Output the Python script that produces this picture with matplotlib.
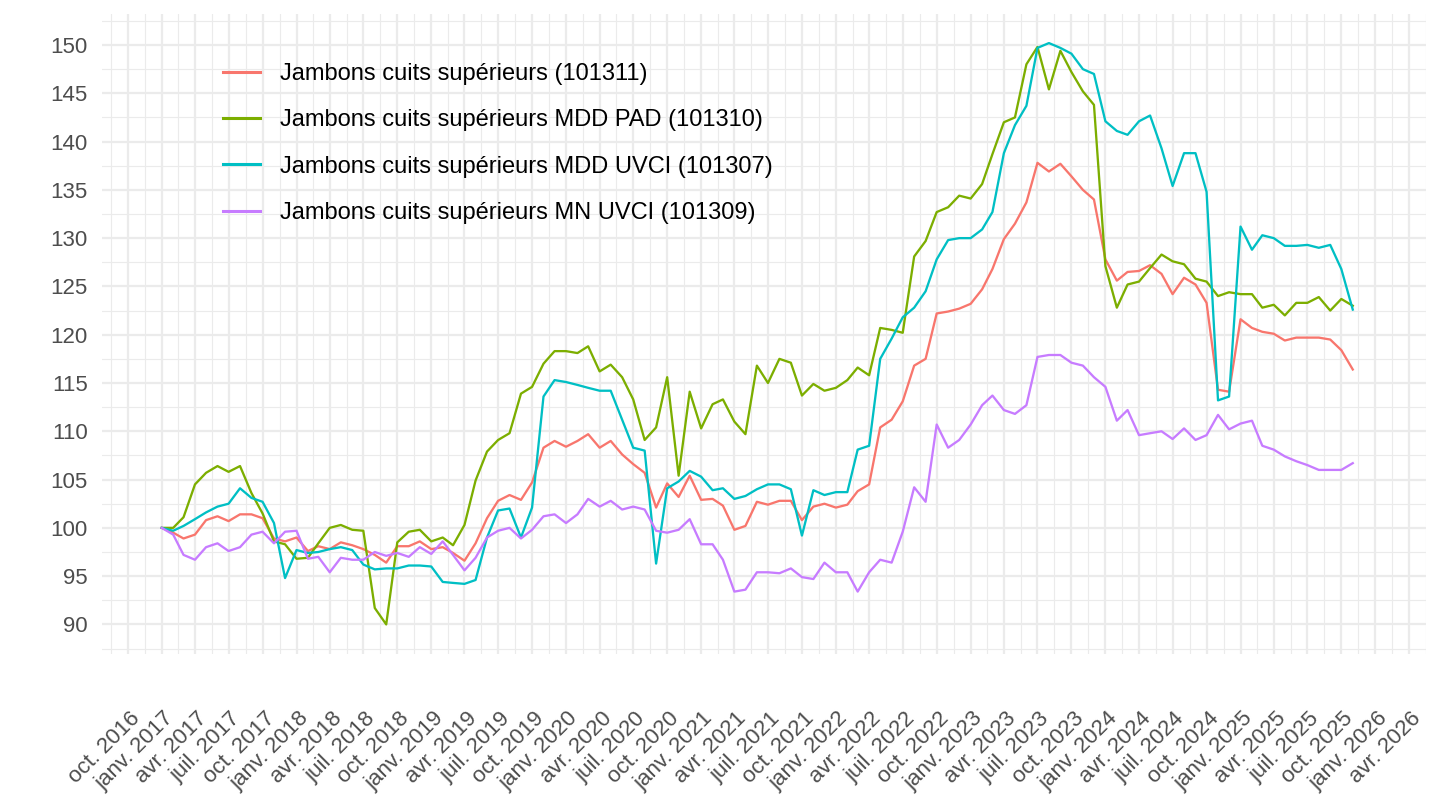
import datetime as dt
import matplotlib
matplotlib.use("Agg")
import matplotlib.pyplot as plt
import matplotlib.dates as mdates
import matplotlib.transforms as mtransforms

# ---------------- data ----------------
start_year, start_month = 2017, 1
n_months = 107  # janv. 2017 -> nov. 2025

labels = [
    "Jambons cuits supérieurs (101311)",
    "Jambons cuits supérieurs MDD PAD (101310)",
    "Jambons cuits supérieurs MDD UVCI (101307)",
    "Jambons cuits supérieurs MN UVCI (101309)",
]
colors = ["#F8766D", "#7CAE00", "#00BFC4", "#C77CFF"]

s101311 = [100, 99.5, 98.9, 99.3, 100.8, 101.2, 100.7, 101.4, 101.4, 101.0,
           98.9, 98.6, 99.0, 97.6, 98.1, 97.8, 98.5, 98.2, 97.8, 97.2,
           96.4, 98.1, 98.1, 98.6, 97.8, 98.0, 97.4, 96.6, 98.4, 101.0,
           102.8, 103.4, 102.9, 104.7, 108.3, 109.0, 108.4, 109.0, 109.7, 108.3,
           109.0, 107.6, 106.6, 105.7, 102.1, 104.6, 103.2, 105.4, 102.9, 103.0,
           102.3, 99.8, 100.2, 102.7, 102.4, 102.8, 102.8, 100.8, 102.2, 102.5,
           102.1, 102.4, 103.8, 104.5, 110.4, 111.2, 113.1, 116.8, 117.5, 122.2,
           122.4, 122.7, 123.2, 124.7, 126.8, 129.9, 131.5, 133.7, 137.8, 136.9,
           137.7, 136.4, 135.0, 134.0, 127.8, 125.6, 126.5, 126.6, 127.2, 126.3,
           124.2, 125.9, 125.2, 123.3, 114.3, 114.1, 121.6, 120.7, 120.3, 120.1,
           119.4, 119.7, 119.7, 119.7, 119.5, 118.4, 116.4]

s101310 = [100, 100, 101.1, 104.5, 105.7, 106.4, 105.8, 106.4, 103.6, 101.5,
           98.6, 98.3, 96.8, 96.9, 98.4, 100.0, 100.3, 99.8, 99.7, 91.7,
           90.0, 98.5, 99.6, 99.8, 98.6, 99.0, 98.2, 100.3, 104.9, 107.9,
           109.1, 109.8, 113.9, 114.6, 117.0, 118.3, 118.3, 118.1, 118.8, 116.2,
           116.9, 115.6, 113.3, 109.1, 110.4, 115.6, 105.4, 114.1, 110.3, 112.8,
           113.3, 111.0, 109.7, 116.8, 115.0, 117.5, 117.1, 113.7, 114.9, 114.2,
           114.5, 115.3, 116.6, 115.8, 120.7, 120.5, 120.2, 128.1, 129.7, 132.7,
           133.2, 134.4, 134.1, 135.6, 138.7, 142.0, 142.5, 148.0, 149.8, 145.4,
           149.4, 147.2, 145.2, 143.8, 127.1, 122.8, 125.2, 125.5, 126.9, 128.3,
           127.6, 127.3, 125.8, 125.5, 124.0, 124.4, 124.2, 124.2, 122.8, 123.1,
           122.0, 123.3, 123.3, 123.9, 122.5, 123.7, 123.0]

s101307 = [100, 99.7, 100.2, 100.9, 101.6, 102.2, 102.5, 104.1, 103.1, 102.7,
           100.5, 94.8, 97.7, 97.4, 97.5, 97.8, 98.0, 97.7, 96.2, 95.7,
           95.8, 95.8, 96.1, 96.1, 96.0, 94.4, 94.3, 94.2, 94.6, 99.0,
           101.8, 102.0, 99.0, 102.1, 113.6, 115.3, 115.1, 114.8, 114.5, 114.2,
           114.2, 111.2, 108.3, 108.0, 96.3, 104.1, 104.8, 105.9, 105.3, 103.9,
           104.1, 103.0, 103.3, 104.0, 104.5, 104.5, 104.0, 99.2, 103.9, 103.4,
           103.7, 103.7, 108.1, 108.5, 117.5, 119.6, 121.8, 122.8, 124.5, 127.8,
           129.8, 130.0, 130.0, 130.9, 132.7, 138.8, 141.7, 143.7, 149.7, 150.2,
           149.7, 149.1, 147.5, 147.0, 142.1, 141.1, 140.7, 142.1, 142.7, 139.3,
           135.4, 138.8, 138.8, 134.8, 113.2, 113.6, 131.2, 128.8, 130.3, 130.0,
           129.2, 129.2, 129.3, 129.0, 129.3, 126.8, 122.6]

s101309 = [100, 99.3, 97.2, 96.7, 98.0, 98.4, 97.6, 98.0, 99.3, 99.6,
           98.4, 99.6, 99.7, 96.8, 97.0, 95.4, 96.9, 96.7, 96.7, 97.5,
           97.1, 97.4, 97.0, 98.0, 97.3, 98.6, 97.2, 95.6, 96.9, 99.0,
           99.7, 100.0, 98.9, 99.8, 101.2, 101.4, 100.5, 101.4, 103.0, 102.2,
           102.8, 101.9, 102.2, 101.9, 99.7, 99.5, 99.8, 100.9, 98.3, 98.3,
           96.7, 93.4, 93.6, 95.4, 95.4, 95.3, 95.8, 94.9, 94.7, 96.4,
           95.4, 95.4, 93.4, 95.4, 96.7, 96.4, 99.6, 104.2, 102.7, 110.7,
           108.3, 109.1, 110.7, 112.7, 113.7, 112.2, 111.8, 112.7, 117.7, 117.9,
           117.9, 117.1, 116.8, 115.6, 114.6, 111.1, 112.2, 109.6, 109.8, 110.0,
           109.2, 110.3, 109.1, 109.6, 111.7, 110.2, 110.8, 111.1, 108.5, 108.1,
           107.4, 106.9, 106.5, 106.0, 106.0, 106.0, 106.7]

series = [s101311, s101310, s101307, s101309]

y_ticks = list(range(90, 151, 5))
month_abbr = {1: "janv.", 4: "avr.", 7: "juil.", 10: "oct."}

# ---------------- dates ----------------
def month_date(i):
    m = start_month - 1 + i
    return dt.date(start_year + m // 12, m % 12 + 1, 1)

dates = [month_date(i) for i in range(n_months)]

major_dates = []
y, m = 2016, 10
while (y, m) <= (2026, 4):
    major_dates.append(dt.date(y, m, 1))
    m += 3
    if m > 12:
        m -= 12
        y += 1
major_nums = [mdates.date2num(d) for d in major_dates]
major_labels = [f"{month_abbr[d.month]} {d.year}" for d in major_dates]
step = major_nums[1] - major_nums[0]
ext = [major_nums[0] - step] + major_nums + [major_nums[-1] + step]
minor_nums = [(a + b) / 2 for a, b in zip(ext[:-1], ext[1:])]

# ---------------- figure ----------------
plt.rcParams["font.family"] = ["Liberation Sans", "DejaVu Sans"]
fig = plt.figure(figsize=(14.4, 8.1), dpi=100)
ax = fig.add_axes([102.2 / 1440, 1 - 653.5 / 810, 1323.3 / 1440, 639.5 / 810])

xnum = [mdates.date2num(d) for d in dates]
for vals, lab, col in zip(series, labels, colors):
    ax.plot(xnum, vals, color=col, lw=1.65, label=lab, solid_joinstyle="round")

x0, x1 = xnum[0], xnum[-1]
span = x1 - x0
ax.set_xlim(x0 - 0.05 * span, x1 + 0.05 * span)
allv = [v for s in series for v in s]
ymin, ymax = min(allv), max(allv)
yr = ymax - ymin
ax.set_ylim(ymin - 0.05 * yr, ymax + 0.05 * yr)

ax.set_xticks(major_nums)
ax.set_xticklabels(major_labels, rotation=45, ha="right", va="top",
                   rotation_mode="anchor")
ax.set_xticks(minor_nums, minor=True)
ax.set_yticks(y_ticks)
ax.set_yticks([v + 2.5 for v in range(85, 155, 5)], minor=True)

ax.grid(which="major", color="#EBEBEB", lw=1.6)
ax.grid(which="minor", color="#EBEBEB", lw=0.85)
ax.set_axisbelow(True)
for sp in ax.spines.values():
    sp.set_visible(False)
ax.tick_params(which="both", length=0)
ax.tick_params(axis="y", labelsize=16, labelcolor="#4D4D4D", pad=10.5)
ax.tick_params(axis="x", labelsize=16, labelcolor="#4D4D4D", pad=39)

offset = mtransforms.ScaledTranslation(1.5 / 100, 0, fig.dpi_scale_trans)
for lbl in ax.get_xticklabels():
    lbl.set_transform(lbl.get_transform() + offset)

leg = ax.legend(loc="upper left", bbox_to_anchor=(223 / 1440, 1 - 63 / 810),
                bbox_transform=fig.transFigure, frameon=False, fontsize=17,
                handlelength=1.55, handletextpad=0.85, labelspacing=1.03,
                borderpad=0, borderaxespad=0)
for h in leg.get_lines():
    h.set_linewidth(2.2)

fig.savefig("out.png", dpi=100, facecolor="white")
